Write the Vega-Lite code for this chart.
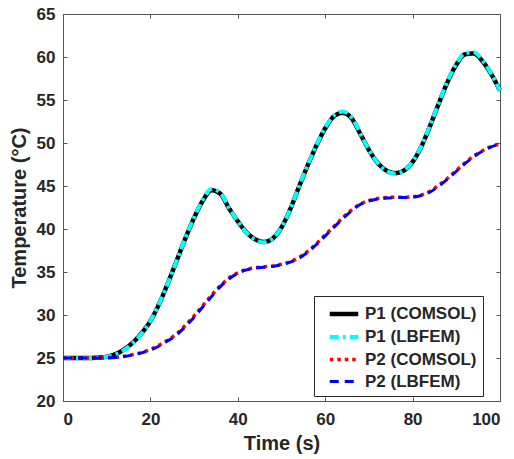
{
  "$schema": "https://vega.github.io/schema/vega-lite/v6.json",
  "width": 437,
  "height": 387,
  "autosize": "none",
  "padding": {"left": 63, "top": 14, "right": 14, "bottom": 58},
  "background": "white",
  "config": {
    "font": "Liberation Sans",
    "view": {"stroke": "#555555", "strokeWidth": 1},
    "axis": {
      "grid": false,
      "domainColor": "#555555",
      "tickColor": "#555555",
      "tickSize": -4,
      "labelFont": "Liberation Sans",
      "labelFontSize": 17,
      "labelFontWeight": "bold",
      "labelColor": "#262626",
      "titleFont": "Liberation Sans",
      "titleFontSize": 20,
      "titleFontWeight": "bold",
      "titleColor": "#262626"
    }
  },
  "data": {
    "values": [
      {"t": 0, "P1 (COMSOL)": 25.0, "P1 (LBFEM)": 25.0, "P2 (COMSOL)": 25.0, "P2 (LBFEM)": 25.0},
      {"t": 2, "P1 (COMSOL)": 25.0, "P1 (LBFEM)": 25.0, "P2 (COMSOL)": 25.0, "P2 (LBFEM)": 25.0},
      {"t": 4, "P1 (COMSOL)": 25.0, "P1 (LBFEM)": 25.0, "P2 (COMSOL)": 25.0, "P2 (LBFEM)": 25.0},
      {"t": 6, "P1 (COMSOL)": 25.0, "P1 (LBFEM)": 25.0, "P2 (COMSOL)": 25.0, "P2 (LBFEM)": 25.0},
      {"t": 8, "P1 (COMSOL)": 25.05, "P1 (LBFEM)": 25.05, "P2 (COMSOL)": 25.0, "P2 (LBFEM)": 25.0},
      {"t": 10, "P1 (COMSOL)": 25.15, "P1 (LBFEM)": 25.15, "P2 (COMSOL)": 25.02, "P2 (LBFEM)": 25.02},
      {"t": 12, "P1 (COMSOL)": 25.45, "P1 (LBFEM)": 25.4, "P2 (COMSOL)": 25.08, "P2 (LBFEM)": 25.07},
      {"t": 14, "P1 (COMSOL)": 26.0, "P1 (LBFEM)": 25.95, "P2 (COMSOL)": 25.2, "P2 (LBFEM)": 25.18},
      {"t": 16, "P1 (COMSOL)": 26.8, "P1 (LBFEM)": 26.75, "P2 (COMSOL)": 25.4, "P2 (LBFEM)": 25.36},
      {"t": 18, "P1 (COMSOL)": 27.9, "P1 (LBFEM)": 27.85, "P2 (COMSOL)": 25.65, "P2 (LBFEM)": 25.6},
      {"t": 20, "P1 (COMSOL)": 29.3, "P1 (LBFEM)": 29.3, "P2 (COMSOL)": 26.0, "P2 (LBFEM)": 25.92},
      {"t": 22, "P1 (COMSOL)": 31.3, "P1 (LBFEM)": 31.3, "P2 (COMSOL)": 26.5, "P2 (LBFEM)": 26.4},
      {"t": 24, "P1 (COMSOL)": 33.7, "P1 (LBFEM)": 33.7, "P2 (COMSOL)": 27.1, "P2 (LBFEM)": 27.0},
      {"t": 26, "P1 (COMSOL)": 36.3, "P1 (LBFEM)": 36.3, "P2 (COMSOL)": 27.8, "P2 (LBFEM)": 27.7},
      {"t": 28, "P1 (COMSOL)": 38.9, "P1 (LBFEM)": 38.95, "P2 (COMSOL)": 28.8, "P2 (LBFEM)": 28.65},
      {"t": 30, "P1 (COMSOL)": 41.3, "P1 (LBFEM)": 41.35, "P2 (COMSOL)": 29.9, "P2 (LBFEM)": 29.75},
      {"t": 32, "P1 (COMSOL)": 43.3, "P1 (LBFEM)": 43.4, "P2 (COMSOL)": 31.1, "P2 (LBFEM)": 30.95},
      {"t": 34, "P1 (COMSOL)": 44.5, "P1 (LBFEM)": 44.65, "P2 (COMSOL)": 32.3, "P2 (LBFEM)": 32.15},
      {"t": 36, "P1 (COMSOL)": 44.1, "P1 (LBFEM)": 44.2, "P2 (COMSOL)": 33.4, "P2 (LBFEM)": 33.3},
      {"t": 38, "P1 (COMSOL)": 42.4, "P1 (LBFEM)": 42.45, "P2 (COMSOL)": 34.3, "P2 (LBFEM)": 34.2},
      {"t": 40, "P1 (COMSOL)": 40.9, "P1 (LBFEM)": 40.9, "P2 (COMSOL)": 34.9, "P2 (LBFEM)": 34.85},
      {"t": 42, "P1 (COMSOL)": 39.6, "P1 (LBFEM)": 39.55, "P2 (COMSOL)": 35.3, "P2 (LBFEM)": 35.25},
      {"t": 44, "P1 (COMSOL)": 38.8, "P1 (LBFEM)": 38.75, "P2 (COMSOL)": 35.5, "P2 (LBFEM)": 35.45},
      {"t": 46, "P1 (COMSOL)": 38.5, "P1 (LBFEM)": 38.45, "P2 (COMSOL)": 35.6, "P2 (LBFEM)": 35.55},
      {"t": 48, "P1 (COMSOL)": 38.9, "P1 (LBFEM)": 38.9, "P2 (COMSOL)": 35.7, "P2 (LBFEM)": 35.65},
      {"t": 50, "P1 (COMSOL)": 40.2, "P1 (LBFEM)": 40.2, "P2 (COMSOL)": 35.9, "P2 (LBFEM)": 35.85},
      {"t": 52, "P1 (COMSOL)": 42.3, "P1 (LBFEM)": 42.3, "P2 (COMSOL)": 36.2, "P2 (LBFEM)": 36.15},
      {"t": 54, "P1 (COMSOL)": 44.9, "P1 (LBFEM)": 44.95, "P2 (COMSOL)": 36.7, "P2 (LBFEM)": 36.6},
      {"t": 56, "P1 (COMSOL)": 47.4, "P1 (LBFEM)": 47.45, "P2 (COMSOL)": 37.4, "P2 (LBFEM)": 37.3},
      {"t": 58, "P1 (COMSOL)": 49.7, "P1 (LBFEM)": 49.75, "P2 (COMSOL)": 38.3, "P2 (LBFEM)": 38.2},
      {"t": 60, "P1 (COMSOL)": 51.7, "P1 (LBFEM)": 51.8, "P2 (COMSOL)": 39.3, "P2 (LBFEM)": 39.2},
      {"t": 62, "P1 (COMSOL)": 53.1, "P1 (LBFEM)": 53.2, "P2 (COMSOL)": 40.3, "P2 (LBFEM)": 40.2},
      {"t": 64, "P1 (COMSOL)": 53.5, "P1 (LBFEM)": 53.65, "P2 (COMSOL)": 41.3, "P2 (LBFEM)": 41.2},
      {"t": 66, "P1 (COMSOL)": 52.9, "P1 (LBFEM)": 53.0, "P2 (COMSOL)": 42.2, "P2 (LBFEM)": 42.1},
      {"t": 68, "P1 (COMSOL)": 51.1, "P1 (LBFEM)": 51.15, "P2 (COMSOL)": 42.9, "P2 (LBFEM)": 42.85},
      {"t": 70, "P1 (COMSOL)": 49.2, "P1 (LBFEM)": 49.2, "P2 (COMSOL)": 43.3, "P2 (LBFEM)": 43.25},
      {"t": 72, "P1 (COMSOL)": 47.7, "P1 (LBFEM)": 47.7, "P2 (COMSOL)": 43.55, "P2 (LBFEM)": 43.5},
      {"t": 74, "P1 (COMSOL)": 46.8, "P1 (LBFEM)": 46.75, "P2 (COMSOL)": 43.65, "P2 (LBFEM)": 43.6},
      {"t": 76, "P1 (COMSOL)": 46.5, "P1 (LBFEM)": 46.45, "P2 (COMSOL)": 43.7, "P2 (LBFEM)": 43.65},
      {"t": 78, "P1 (COMSOL)": 46.8, "P1 (LBFEM)": 46.8, "P2 (COMSOL)": 43.7, "P2 (LBFEM)": 43.65},
      {"t": 80, "P1 (COMSOL)": 47.8, "P1 (LBFEM)": 47.85, "P2 (COMSOL)": 43.75, "P2 (LBFEM)": 43.7},
      {"t": 82, "P1 (COMSOL)": 49.6, "P1 (LBFEM)": 49.65, "P2 (COMSOL)": 43.95, "P2 (LBFEM)": 43.9},
      {"t": 84, "P1 (COMSOL)": 52.0, "P1 (LBFEM)": 52.05, "P2 (COMSOL)": 44.4, "P2 (LBFEM)": 44.3},
      {"t": 86, "P1 (COMSOL)": 54.6, "P1 (LBFEM)": 54.65, "P2 (COMSOL)": 45.1, "P2 (LBFEM)": 45.0},
      {"t": 88, "P1 (COMSOL)": 57.1, "P1 (LBFEM)": 57.2, "P2 (COMSOL)": 45.9, "P2 (LBFEM)": 45.8},
      {"t": 90, "P1 (COMSOL)": 59.1, "P1 (LBFEM)": 59.2, "P2 (COMSOL)": 46.8, "P2 (LBFEM)": 46.7},
      {"t": 92, "P1 (COMSOL)": 60.3, "P1 (LBFEM)": 60.45, "P2 (COMSOL)": 47.7, "P2 (LBFEM)": 47.6},
      {"t": 94, "P1 (COMSOL)": 60.4, "P1 (LBFEM)": 60.55, "P2 (COMSOL)": 48.5, "P2 (LBFEM)": 48.4},
      {"t": 96, "P1 (COMSOL)": 59.5, "P1 (LBFEM)": 59.6, "P2 (COMSOL)": 49.1, "P2 (LBFEM)": 49.05},
      {"t": 98, "P1 (COMSOL)": 58.0, "P1 (LBFEM)": 58.05, "P2 (COMSOL)": 49.6, "P2 (LBFEM)": 49.55},
      {"t": 100, "P1 (COMSOL)": 56.1, "P1 (LBFEM)": 56.1, "P2 (COMSOL)": 49.9, "P2 (LBFEM)": 49.9}
    ]
  },
  "transform": [
    {"fold": ["P1 (COMSOL)", "P1 (LBFEM)", "P2 (COMSOL)", "P2 (LBFEM)"], "as": ["s", "T"]}
  ],
  "layer": [
    {
      "mark": {"type": "line", "interpolate": "monotone", "strokeCap": "butt"},
      "encoding": {
        "x": {
          "field": "t", "type": "quantitative",
          "scale": {"domain": [0, 100], "nice": false},
          "axis": {"orient": "bottom", "values": [0, 20, 40, 60, 80, 100], "title": "Time (s)", "labelPadding": 14, "titlePadding": 6}
        },
        "y": {
          "field": "T", "type": "quantitative",
          "scale": {"domain": [20, 65], "nice": false},
          "axis": {"orient": "left", "values": [20, 25, 30, 35, 40, 45, 50, 55, 60, 65], "title": "Temperature (°C)", "labelPadding": 12, "titlePadding": 7}
        },
        "color": {
          "field": "s", "type": "nominal",
          "scale": {"domain": ["P1 (COMSOL)", "P1 (LBFEM)", "P2 (COMSOL)", "P2 (LBFEM)"], "range": ["#000000", "#00ffff", "#ff0000", "#0000ff"]},
          "legend": {
            "title": null,
            "orient": "none",
            "legendX": 251,
            "legendY": 282,
            "direction": "vertical",
            "strokeColor": "#262626",
            "fillColor": "white",
            "padding": 6,
            "symbolType": "M-1.5,0H1.5",
            "symbolSize": 361,
            "symbolOffset": 12,
            "labelOffset": 9,
            "rowPadding": 2.5,
            "labelFont": "Liberation Sans",
            "labelFontSize": 17,
            "labelFontWeight": "bold",
            "labelColor": "#262626",
            "labelLimit": 200
          }
        },
        "strokeDash": {
          "field": "s", "type": "nominal",
          "scale": {"domain": ["P1 (COMSOL)", "P1 (LBFEM)", "P2 (COMSOL)", "P2 (LBFEM)"], "range": [[1, 0], [9, 4, 3, 4], [3.5, 4], [9, 6]]}
        },
        "strokeWidth": {
          "field": "s", "type": "nominal",
          "scale": {"domain": ["P1 (COMSOL)", "P1 (LBFEM)", "P2 (COMSOL)", "P2 (LBFEM)"], "range": [4.5, 3, 3.5, 3]}
        }
      }
    },
    {
      "mark": {"type": "line", "strokeOpacity": 0},
      "encoding": {
        "x": {"field": "t", "type": "quantitative", "axis": {"orient": "top", "values": [0, 20, 40, 60, 80, 100], "labels": false, "title": null, "domain": false}},
        "y": {"field": "T", "type": "quantitative", "axis": {"orient": "right", "values": [20, 25, 30, 35, 40, 45, 50, 55, 60, 65], "labels": false, "title": null, "domain": false}}
      }
    }
  ],
  "resolve": {"axis": {"x": "independent", "y": "independent"}}
}
